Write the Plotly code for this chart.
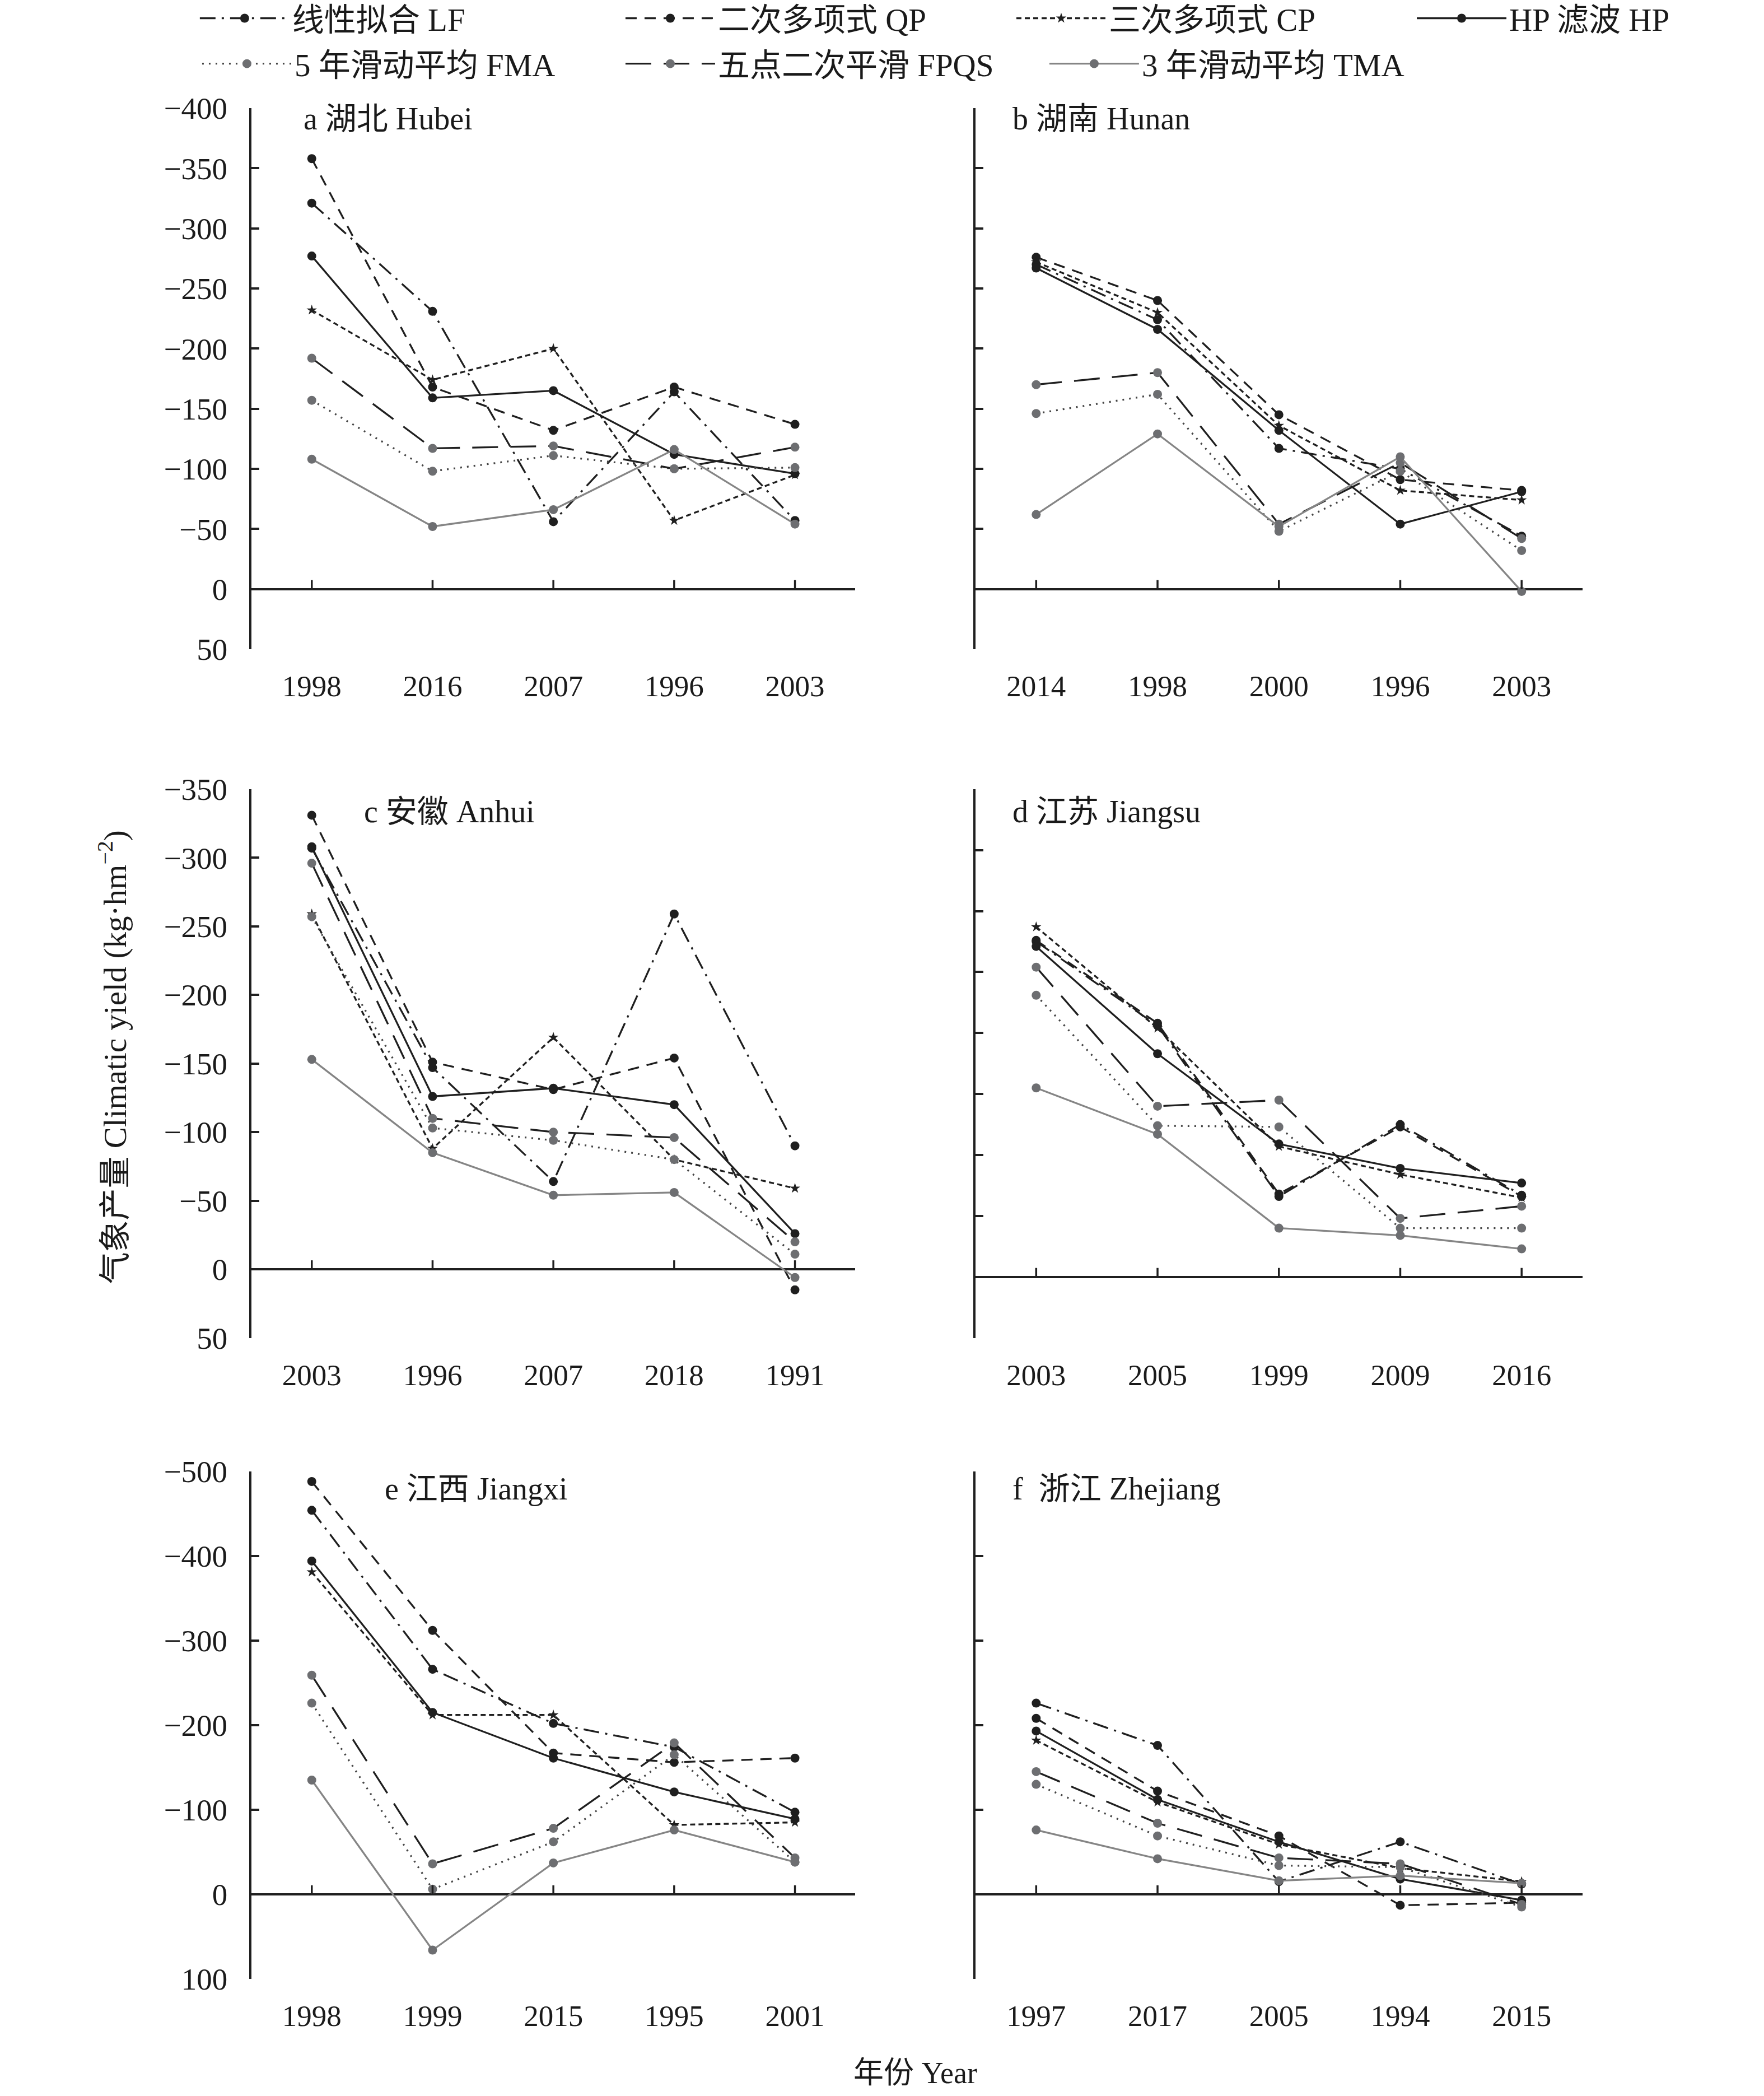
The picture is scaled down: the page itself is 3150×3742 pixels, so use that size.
import plotly.graph_objects as go

# ---------------- data ----------------
series_names = ["线性拟合 LF", "二次多项式 QP", "三次多项式 CP", "HP 滤波 HP",
                "5 年滑动平均 FMA", "五点二次平滑 FPQS", "3 年滑动平均 TMA"]

panel_titles = ["a 湖北 Hubei", "b 湖南 Hunan", "c 安徽 Anhui",
                "d 江苏 Jiangsu", "e 江西 Jiangxi", "f  浙江 Zhejiang"]

# order of series in each panel: LF, QP, CP, HP, FMA, FPQS, TMA
hubei_years = ["1998", "2016", "2007", "1996", "2003"]
hubei_values = [
    [-321, -231, -56, -164, -57],
    [-358, -168, -132, -168, -137],
    [-232, -174, -200, -57, -95],
    [-277, -159, -165, -112, -96],
    [-157, -98, -111, -100, -101],
    [-192, -117, -119, -100, -118],
    [-108, -52, -66, -116, -54],
]

hunan_years = ["2014", "1998", "2000", "1996", "2003"]
hunan_values = [
    [-270, -224, -117, -100, -44],
    [-276, -240, -145, -91, -82],
    [-272, -230, -136, -82, -74],
    [-267, -216, -132, -54, -81],
    [-146, -162, -48, -98, -32],
    [-170, -180, -54, -105, -42],
    [-62, -129, -52, -110, 2],
]

anhui_years = ["2003", "1996", "2007", "2018", "1991"]
anhui_values = [
    [-307, -147, -64, -259, -90],
    [-331, -151, -131, -154, 15],
    [-259, -88, -169, -80, -59],
    [-308, -126, -132, -120, -26],
    [-257, -103, -94, -80, -11],
    [-296, -110, -100, -96, -20],
    [-153, -85, -54, -56, 6],
]

jiangsu_years = ["2003", "2005", "1999", "2009", "2016"]
jiangsu_values = [
    [-275, -206, -66, -125, -67],
    [-276, -208, -68, -123, -66],
    [-287, -204, -107, -84, -65],
    [-271, -183, -109, -89, -77],
    [-231, -124, -123, -40, -40],
    [-254, -140, -145, -48, -58],
    [-155, -117, -40, -34, -23],
]

jiangxi_years = ["1998", "1999", "2015", "1995", "2001"]
jiangxi_values = [
    [-454, -266, -202, -174, -97],
    [-488, -312, -167, -156, -161],
    [-381, -212, -212, -82, -85],
    [-394, -215, -161, -121, -89],
    [-226, -6, -62, -165, -38],
    [-259, -36, -78, -179, -43],
    [-135, 66, -37, -76, -38],
]

zhejiang_years = ["1997", "2017", "2005", "1994", "2015"]
zhejiang_values = [
    [-226, -176, -15, -62, -12],
    [-208, -122, -69, 13, 10],
    [-182, -109, -59, -31, -15],
    [-193, -112, -62, -18, 7],
    [-130, -69, -34, -32, 15],
    [-145, -84, -43, -36, 12],
    [-76, -42, -16, -22, -13],
]

panel_years = [hubei_years, hunan_years, anhui_years, jiangsu_years, jiangxi_years, zhejiang_years]
panel_values = [hubei_values, hunan_values, anhui_values, jiangsu_values, jiangxi_values, zhejiang_values]

# y axis ranges [bottom, top] and tick step
y_ranges = [[50, -400], [50, -400], [50, -350], [50, -400], [100, -500], [100, -500]]
y_steps = [50, 50, 50, 50, 100, 100]

# ---------------- styles ----------------
BLACK = "#1f1f1f"
GRAY_M = "#6d6e71"
GRAY_L = "#858585"
line_dash = ["28px,11px,4px,11px", "20px,14px", "9px,6px", "solid",
             "3px,9px", "46px,22px", "solid"]
line_color = [BLACK, BLACK, BLACK, BLACK, "#444444", BLACK, GRAY_L]
marker_color = [BLACK, BLACK, BLACK, BLACK, GRAY_M, GRAY_M, GRAY_M]
marker_symbol = ["circle", "circle", "star", "circle", "circle", "circle", "circle"]
marker_size = [16, 16, 14, 16, 16, 16, 16]

FONT = "Liberation Serif, Times New Roman, Noto Sans CJK SC"

W, H = 3150, 3742
x_doms = [[0.1425, 0.4849], [0.553, 0.897]]
y_doms = [[0.6903, 0.9484], [0.3617, 0.6235], [0.0559, 0.298]]

# legend placement (one legend per entry, paper coords)
legend_x = [0.1117, 0.3530, 0.5746, 0.8016, 0.1130, 0.3530, 0.5933]
legend_y = [0.9912, 0.9912, 0.9912, 0.9912, 0.9695, 0.9695, 0.9695]

fig = go.Figure()

for p in range(6):
    ax = "" if p == 0 else str(p + 1)
    for s in range(7):
        fig.add_trace(go.Scatter(
            x=panel_years[p], y=panel_values[p][s],
            xaxis="x" + ax, yaxis="y" + ax,
            mode="lines+markers",
            name=series_names[s],
            legend="legend" if s == 0 else "legend" + str(s + 1),
            showlegend=(p == 0),
            line=dict(color=line_color[s], width=3.3, dash=line_dash[s]),
            marker=dict(color=marker_color[s], size=marker_size[s],
                        symbol=marker_symbol[s], line=dict(width=0)),
        ))

layout = dict(
    width=W, height=H,
    margin=dict(l=0, r=0, t=0, b=0, autoexpand=False),
    paper_bgcolor="white", plot_bgcolor="white",
    font=dict(family=FONT, size=53, color="#1a1a1a"),
)
for s in range(7):
    key = "legend" if s == 0 else "legend" + str(s + 1)
    layout[key] = dict(orientation="h", x=legend_x[s], xanchor="left",
                       y=legend_y[s], yanchor="middle",
                       font=dict(size=57, family=FONT), itemwidth=160,
                       bgcolor="rgba(0,0,0,0)", borderwidth=0)

shapes = []
annotations = []
for p in range(6):
    row, col = p // 2, p % 2
    ax = "" if p == 0 else str(p + 1)
    r0, r1 = y_ranges[p]
    tvals = list(range(r1, r0 + 1, y_steps[p]))
    ttext = [("−" + str(-v)) if v < 0 else str(v) for v in tvals]
    layout["xaxis" + ax] = dict(
        domain=x_doms[col], anchor="y" + ax, type="category",
        categoryorder="array", categoryarray=panel_years[p],
        range=[-0.5, 4.5], showline=False, showgrid=False, zeroline=False,
        ticks="outside", ticklen=20, tickcolor="rgba(0,0,0,0)",
        tickfont=dict(size=53, family=FONT),
    )
    layout["yaxis" + ax] = dict(
        domain=y_doms[row], anchor="x" + ax, range=[r0, r1],
        tickmode="array", tickvals=tvals, ticktext=ttext, showgrid=False,
        showline=True, linecolor=BLACK, linewidth=3.5,
        ticks="inside", ticklen=14, tickwidth=3.5, tickcolor=BLACK,
        zeroline=True, zerolinecolor=BLACK, zerolinewidth=3.5,
        showticklabels=(col == 0), ticklabelstandoff=28,
        tickfont=dict(size=55, family=FONT),
    )
    # category tick marks on the zero line
    zero_frac = (0 - r0) / (r1 - r0)
    dom_h_px = (y_doms[row][1] - y_doms[row][0]) * H
    tick_frac = 16 / dom_h_px
    for k in range(len(panel_years[p])):
        shapes.append(dict(type="line", xref="x" + ax, yref="y" + ax + " domain",
                           x0=k, x1=k, y0=zero_frac, y1=zero_frac + tick_frac,
                           line=dict(color=BLACK, width=3.5)))

title_pos = [(0.0843, 0.980), (0.059, 0.980), (0.185, 0.959),
             (0.059, 0.959), (0.219, 0.966), (0.059, 0.966)]
for p in range(6):
    ax = "" if p == 0 else str(p + 1)
    annotations.append(dict(text=panel_titles[p], xref="x" + ax + " domain",
                            yref="y" + ax + " domain", x=title_pos[p][0], y=title_pos[p][1],
                            xanchor="left", yanchor="middle", showarrow=False,
                            font=dict(size=56, family=FONT)))

annotations.append(dict(text="气象产量 Climatic yield (kg·hm<sup>−2</sup>)", xref="paper", yref="paper",
                        x=0.064, y=0.4955, textangle=-90, showarrow=False,
                        xanchor="center", yanchor="middle", font=dict(size=57, family=FONT)))
annotations.append(dict(text="年份 Year", xref="paper", yref="paper",
                        x=0.519, y=0.011, showarrow=False,
                        xanchor="center", yanchor="middle", font=dict(size=54, family=FONT)))

layout["shapes"] = shapes
layout["annotations"] = annotations
fig.update_layout(**layout)

fig.write_html("out.html", config={"displayModeBar": False},
               post_script="document.body.style.margin='0px';")
